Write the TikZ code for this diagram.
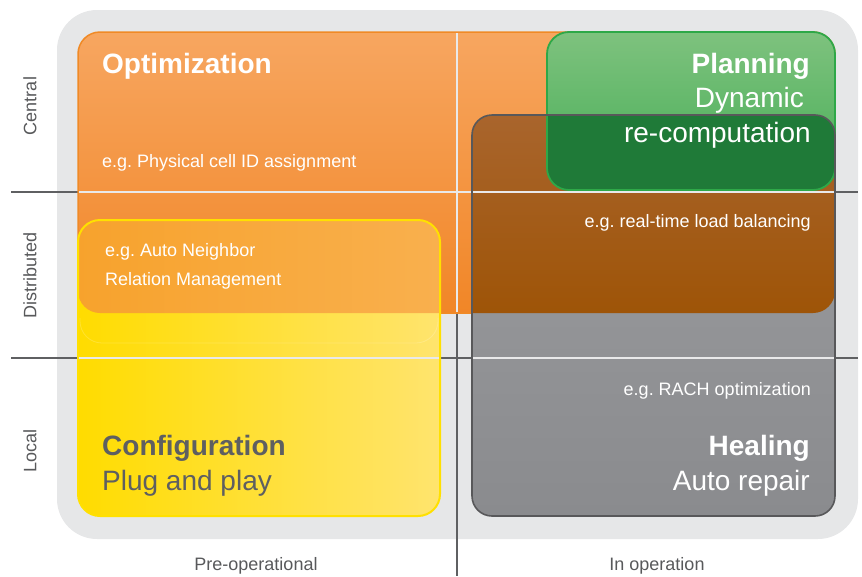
\documentclass[tikz,border=0pt]{standalone}
\usepackage{fontspec}
\setmainfont{Liberation Sans}
\frenchspacing
\definecolor{bgGrey}{HTML}{E6E7E8}
\definecolor{lineDark}{HTML}{5F6062}
\definecolor{lineLight}{HTML}{E9E9EA}
\definecolor{orTop}{HTML}{F7A660}
\definecolor{orBot}{HTML}{F18627}
\definecolor{orBorder}{HTML}{F08A26}
\definecolor{yeLeft}{HTML}{FFDC00}
\definecolor{yeRight}{HTML}{FFE46E}
\definecolor{yeBorder}{HTML}{FFE000}
\definecolor{oyLeft}{HTML}{F7A22C}
\definecolor{oyRight}{HTML}{F9B04E}
\definecolor{grTop}{HTML}{9C9DA0}
\definecolor{grBot}{HTML}{8A8B8E}
\definecolor{grBorder}{HTML}{58585A}
\definecolor{brTop}{HTML}{A9652D}
\definecolor{brBot}{HTML}{9E5407}
\definecolor{gnTop}{HTML}{7EC27E}
\definecolor{gnBot}{HTML}{45AD55}
\definecolor{gnBorder}{HTML}{2EA848}
\definecolor{gnDark}{HTML}{1F7A38}
\definecolor{txtGrey}{HTML}{58595B}
\definecolor{txtConf}{HTML}{5E5F61}
\newcommand\fsBig{\fontsize{28}{34}\selectfont}
\newcommand\fsSmall{\fontsize{18}{22}\selectfont}
\begin{document}
\begin{tikzpicture}[x=1pt,y=-1pt,
  darkline/.style={line width=2.4pt,draw=lineDark},
  lightline/.style={line width=2.2pt,draw=lineLight},
  bigtitle/.style={inner sep=0pt,font=\fsBig\bfseries},
  bigtext/.style={inner sep=0pt,font=\fsBig},
  smalltext/.style={inner sep=0pt,font=\fsSmall},
  axislabel/.style={inner sep=0pt,font=\fsSmall,text=txtGrey}]
\useasboundingbox (0,0) rectangle (862,576);
% background panel
\fill[bgGrey,rounded corners=40pt] (57,10) rectangle (858,539);
% dark axis lines
\draw[darkline] (11,192) -- (858,192);
\draw[darkline] (11,358) -- (858,358);
\draw[darkline] (457,32) -- (457,576);
% orange box
\shade[top color=orTop,bottom color=orBot,rounded corners=22pt] (78,32) rectangle (835,313);
\draw[orBorder,line width=1.5pt,rounded corners=22pt] (78,32) rectangle (835,313);
% yellow box
\shade[left color=yeLeft,right color=yeRight,rounded corners=22pt] (78,220) rectangle (440,516);
\begin{scope}
  \clip[rounded corners=22pt] (78,220) rectangle (440,516);
  \clip[rounded corners=22pt] (78,32) rectangle (835,313);
  \shade[left color=oyLeft,right color=oyRight] (70,215) rectangle (445,315);
\end{scope}
\draw[white,opacity=0.18,line width=0.8pt,rounded corners=22pt] (80,318) -- (80,343) -- (438,343) -- (438,318);
\draw[yeBorder,line width=2pt,rounded corners=22pt] (78,220) rectangle (440,516);
% grey box
\shade[top color=grTop,bottom color=grBot,rounded corners=20pt] (472,115) rectangle (835,516);
\begin{scope}
  \clip[rounded corners=20pt] (472,115) rectangle (835,516);
  \clip[rounded corners=22pt] (78,32) rectangle (835,313);
  \shade[top color=brTop,bottom color=brBot] (470,113) rectangle (837,315);
\end{scope}
% green box
\shade[top color=gnTop,bottom color=gnBot,rounded corners=22pt] (547,32) rectangle (835,190);
\begin{scope}
  \clip[rounded corners=22pt] (547,32) rectangle (835,190);
  \clip[rounded corners=20pt] (472,115) rectangle (835,516);
  \fill[gnDark] (545,113) rectangle (837,192);
\end{scope}
% light grid lines over boxes
\draw[lightline] (79,192) -- (834,192);
\draw[lightline] (79,358) -- (439,358);
\draw[lightline] (473,358) -- (834,358);
\draw[lightline] (457,33) -- (457,312);
% borders on top
\draw[gnBorder,line width=1.8pt,rounded corners=22pt] (547,32) rectangle (835,190);
\draw[grBorder,line width=1.6pt,rounded corners=20pt] (472,115) rectangle (835,516);
% texts
\node[bigtitle,text=white,anchor=base west] (opt) at (102,73) {Optimization};
\node[smalltext,text=white,anchor=base west] (pci) at (102,167) {e.g. Physical cell ID assignment};
\node[smalltext,text=white,anchor=base west] (anr1) at (105,256) {e.g. Auto Neighbor};
\node[smalltext,text=white,anchor=base west] (anr2) at (105,285) {Relation Management};
\node[bigtitle,text=white,anchor=base east] (plan) at (810,73) {Planning};
\node[bigtext,text=white,anchor=base east] (dyn) at (804,107) {Dynamic};
\node[bigtext,text=white,anchor=base east] (recomp) at (811,142) {re-computation};
\node[smalltext,text=white,anchor=base east] (rtlb) at (811,227) {e.g. real-time load balancing};
\node[smalltext,text=white,anchor=base east] (rach) at (811,395) {e.g. RACH optimization};
\node[bigtitle,text=white,anchor=base east] (heal) at (810,455) {Healing};
\node[bigtext,text=white,anchor=base east] (repair) at (810,490) {Auto repair};
\node[bigtitle,text=txtConf,anchor=base west] (conf) at (102,455) {Configuration};
\node[bigtext,text=txtConf,anchor=base west] (plug) at (102,490) {Plug and play};
% axis labels
\node[axislabel,rotate=90] (central) at (30,106) {Central};
\node[axislabel,rotate=90] (distr) at (30,275) {Distributed};
\node[axislabel,rotate=90] (local) at (30,451) {Local};
\node[axislabel,anchor=base] (preop) at (256,570) {Pre-operational};
\node[axislabel,anchor=base] (inop) at (657,570) {In operation};
\end{tikzpicture}
\end{document}
